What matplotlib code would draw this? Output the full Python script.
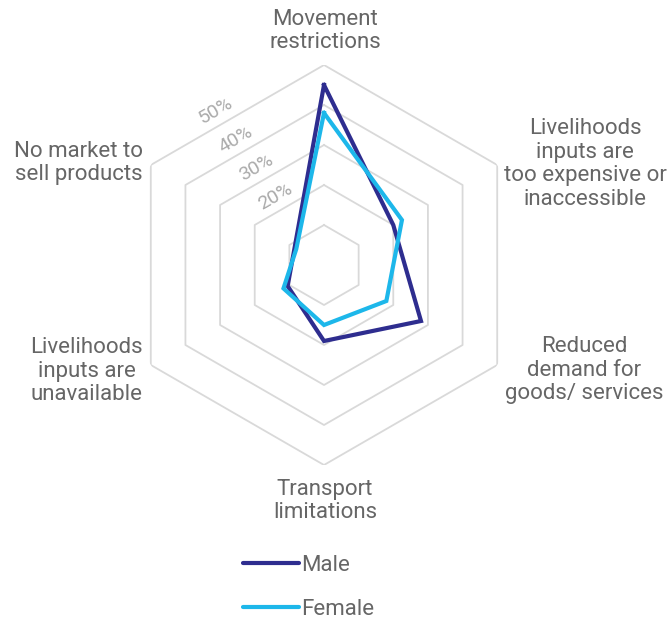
import numpy as np
import matplotlib.pyplot as plt
from matplotlib.lines import Line2D

plt.rcParams['font.family'] = ['Roboto', 'DejaVu Sans']

# ── data ─────────────────────────────────────────────
categories = ['Movement\nrestrictions',
              'Livelihoods\ninputs are\ntoo expensive or\ninaccessible',
              'Reduced\ndemand for\ngoods/ services',
              'Transport\nlimitations',
              'Livelihoods\ninputs are\nunavailable',
              'No market to\nsell products']
male = [45, 20, 28, 19, 10.5, 8.5]
female = [38, 22.5, 18, 15, 11.7, 8]
rings = [10, 20, 30, 40, 50]
ring_labels = ['', '20%', '30%', '40%', '50%']

MALE_C = '#2e2d8f'
FEMALE_C = '#1db7ea'
GRID_C = '#d9d9d9'
TEXT_C = '#666666'
TICK_C = '#ababab'

W, H = 672, 620
fig = plt.figure(figsize=(W / 100, H / 100), dpi=100)

cx, cy, R = 324, 265, 200
ax = fig.add_axes([(cx - R) / W, (H - cy - R) / H, 2 * R / W, 2 * R / H],
                  projection='polar')
ax.set_theta_zero_location('N')
ax.set_theta_direction(-1)
ax.set_ylim(0, 50)
ax.grid(False)
ax.spines['polar'].set_visible(False)
ax.set_xticks([])
ax.set_yticks([])
ax.patch.set_alpha(0)

n = len(categories)
theta = np.linspace(0, 2 * np.pi, n, endpoint=False)
theta_c = np.append(theta, theta[0])

# hexagon grid
for r in rings:
    ax.plot(theta_c, [r] * (n + 1), color=GRID_C, lw=1.3, zorder=1)

# ring labels along the upper-left edge
lab_t = np.deg2rad(325)
for r, lab in zip(rings, ring_labels):
    if lab:
        ax.text(lab_t, r * 0.869 + 3.6, lab, rotation=30, ha='center', va='center',
                fontsize=14, color=TICK_C, zorder=2)

# series
ax.plot(theta_c, male + male[:1], color=MALE_C, lw=3.0,
        solid_joinstyle='miter', zorder=3)
ax.plot(theta_c, female + female[:1], color=FEMALE_C, lw=3.0,
        solid_joinstyle='miter', zorder=4)

# category labels
lab_pos = [(325, 31, 'center'), (585, 164, 'center'), (584, 370, 'center'),
           (325, 501, 'center'), (143, 371, 'right'), (143, 163, 'right')]
for cat, (px, py, ha) in zip(categories, lab_pos):
    fig.text(px / W, 1 - py / H, cat, ha=ha, va='center', fontsize=16,
             color=TEXT_C, linespacing=1.17, multialignment='center')

# legend
handles = [Line2D([], [], color=MALE_C, lw=3.0, solid_capstyle='round'),
           Line2D([], [], color=FEMALE_C, lw=3.0, solid_capstyle='round')]
leg = fig.legend(handles, ['Male', 'Female'], loc='upper left',
                 bbox_to_anchor=(243 / W, 1 - 555 / H), frameon=False,
                 fontsize=16, handlelength=2.5, handletextpad=0.1,
                 labelspacing=1.02, borderpad=0, borderaxespad=0)
for t in leg.get_texts():
    t.set_color(TEXT_C)

plt.savefig('out.png', dpi=100)
